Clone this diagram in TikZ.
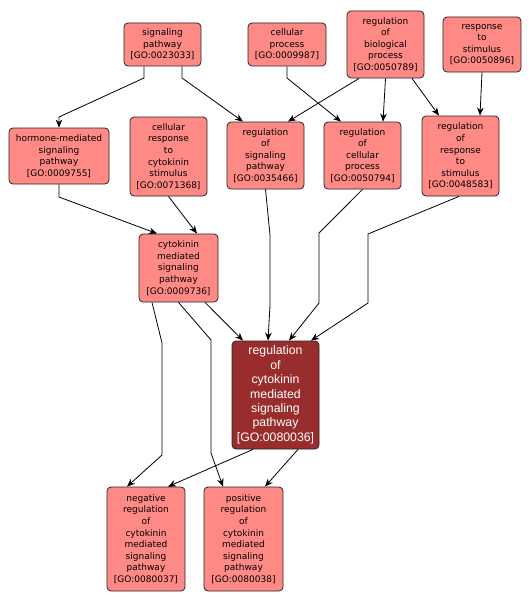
\documentclass[tikz,border=0pt]{standalone}
\usepackage{fontspec}
\newfontfamily\lightfont{DejaVu Sans}
\newfontfamily\darkfont{Liberation Sans}
\usetikzlibrary{arrows.meta}
\definecolor{lightfill}{RGB}{255,138,133}
\definecolor{darkfill}{RGB}{153,44,44}
\tikzset{
  term/.style={draw=black!85, line width=0.8pt, rounded corners=4pt, fill=lightfill,
    align=center, inner sep=0pt, font=\lightfont\fontsize{9}{11.6}\selectfont},
  focus/.style={draw=black!85, line width=0.8pt, rounded corners=4pt, fill=darkfill,
    text=white, align=center, inner sep=0pt, font=\darkfont\fontsize{12.3}{14.4}\selectfont},
  link/.style={draw=black, line width=0.8pt, -{Stealth[length=8pt,width=6.5pt,inset=2.5pt]}}
}
\begin{document}
\begin{tikzpicture}[x=1pt,y=-1pt]
\useasboundingbox (0,0) rectangle (532,602);
% nodes
\node[term, minimum width=77pt, minimum height=43pt] (A) at (162.5,44.5) {signaling\\pathway\\{[}GO:0023033{]}};
\node[term, minimum width=78pt, minimum height=43pt] (B) at (287,44.5) {cellular\\process\\{[}GO:0009987{]}};
\node[term, minimum width=77pt, minimum height=67pt] (C) at (385.5,44.5) {regulation\\of\\biological\\process\\{[}GO:0050789{]}};
\node[term, minimum width=78pt, minimum height=55pt] (D) at (482,44.5) {response\\to\\stimulus\\{[}GO:0050896{]}};
\node[term, minimum width=100pt, minimum height=56pt] (E) at (59,156) {hormone-mediated\\signaling\\pathway\\{[}GO:0009755{]}};
\node[term, minimum width=77pt, minimum height=79pt] (F) at (168.5,156.5) {cellular\\response\\to\\cytokinin\\stimulus\\{[}GO:0071368{]}};
\node[term, minimum width=77pt, minimum height=67pt] (G) at (265.5,155.5) {regulation\\of\\signaling\\pathway\\{[}GO:0035466{]}};
\node[term, minimum width=77pt, minimum height=67pt] (H) at (362.5,155.5) {regulation\\of\\cellular\\process\\{[}GO:0050794{]}};
\node[term, minimum width=77pt, minimum height=80pt] (I) at (460.5,156) {regulation\\of\\response\\to\\stimulus\\{[}GO:0048583{]}};
\node[term, minimum width=79pt, minimum height=68pt] (J) at (178.5,268) {cytokinin\\mediated\\signaling\\pathway\\{[}GO:0009736{]}};
\node[focus, minimum width=87pt, minimum height=108pt] (K) at (275.5,395) {regulation\\of\\cytokinin\\mediated\\signaling\\pathway\\{[}GO:0080036{]}};
\node[term, minimum width=78pt, minimum height=104pt] (L) at (146,539) {negative\\regulation\\of\\cytokinin\\mediated\\signaling\\pathway\\{[}GO:0080037{]}};
\node[term, minimum width=79pt, minimum height=104pt] (M) at (243.5,539) {positive\\regulation\\of\\cytokinin\\mediated\\signaling\\pathway\\{[}GO:0080038{]}};
% connectors
\draw[link] ([xshift=-18.5pt]A.south) -- (144,78) -- (59,117) -- (E.north);
\draw[link] ([xshift=19.5pt]A.south) -- (182,78) -- ([xshift=-22.5pt]G.north);
\draw[link] (B.south) -- (287,78) -- ([xshift=-21.5pt]H.north);
\draw[link] ([xshift=-26.5pt]C.south) -- ([xshift=22.5pt]G.north);
\draw[link] (C.south) -- ([xshift=20.5pt]H.north);
\draw[link] ([xshift=26.5pt]C.south) -- ([xshift=-21.5pt]I.north);
\draw[link] (D.south) -- ([xshift=19.5pt]I.north);
\draw[link] (E.south) -- (59,197) -- ([xshift=-21.5pt]J.north);
\draw[link] (F.south) -- ([xshift=18.5pt]J.north);
\draw[link] (G.south) -- (270,235) -- (270,305) -- ([xshift=-7.5pt]K.north);
\draw[link] (H.south) -- (319,233) -- (319,303) -- ([xshift=13.5pt]K.north);
\draw[link] ([xshift=-1.5pt]I.south) -- (368,234) -- (368,303) -- ([xshift=35.5pt]K.north);
\draw[link] ([xshift=26.5pt]J.south) -- ([xshift=-32.5pt]K.north);
\draw[link] ([xshift=-26.5pt]J.south) -- (162,343) -- (162,455) -- ([xshift=-19pt]L.north);
\draw[link] (J.south) -- (211,340) -- (211,453) -- ([xshift=-20.5pt]M.north);
\draw[link] ([xshift=-22.5pt]K.south) -- ([xshift=22pt]L.north);
\draw[link] ([xshift=22.5pt]K.south) -- ([xshift=21.5pt]M.north);
\end{tikzpicture}
\end{document}
